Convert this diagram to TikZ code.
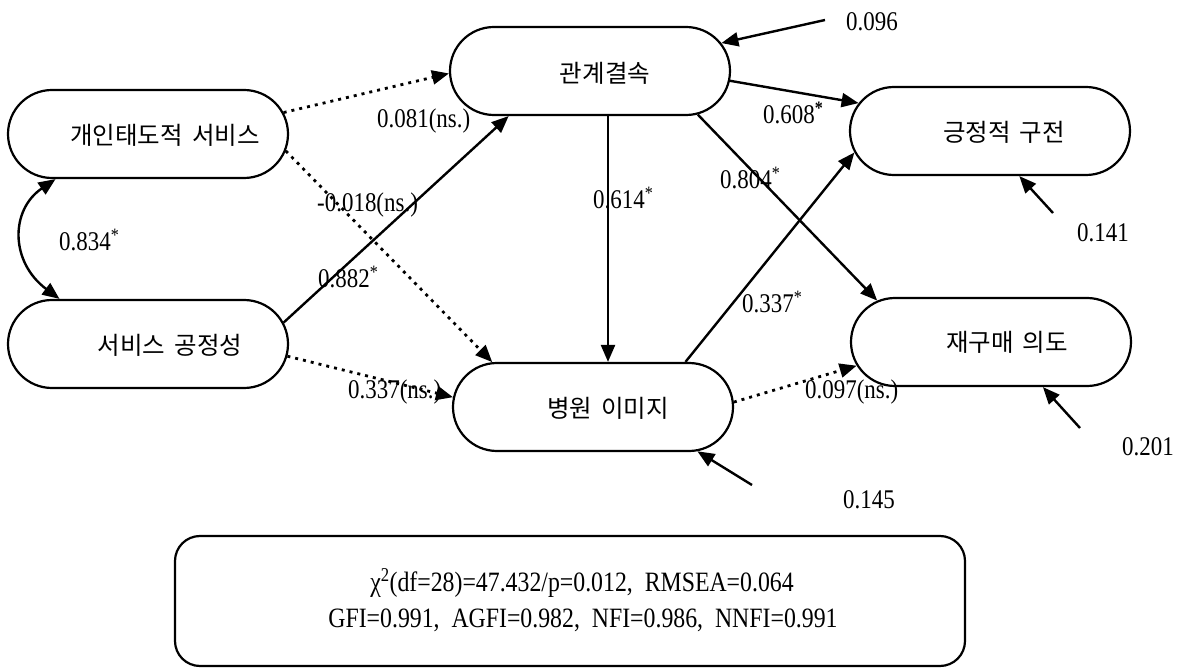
\documentclass[tikz,border=0pt]{standalone}
\usepackage{fontspec}
\setmainfont{Liberation Serif}[FakeStretch=0.85]
\newfontfamily\kr{Noto Sans CJK KR}
\usetikzlibrary{arrows.meta,shapes.misc}
\newcommand{\ksp}{\hspace{9pt}}
\begin{document}
\begin{tikzpicture}[x=1pt,y=-1pt,
  box/.style={rounded rectangle, draw, line width=2.2pt, minimum width=280pt, minimum height=88pt, inner sep=0pt},
  kt/.style={font=\kr\fontsize{24.5}{28}\selectfont, inner sep=0pt},
  lab/.style={font=\fontsize{27}{30}\selectfont, inner sep=0pt, anchor=west},
  tip/.tip={Triangle[length=17pt,width=14pt]},
  arr/.style={line width=2.4pt, -tip},
  dot/.style={arr, dash pattern=on 3pt off 5pt, line width=2.8pt}]
\useasboundingbox (0,0) rectangle (1179,668);
% boxes
\node[box] (b1) at (148,134) {};
\node[box] (b2) at (148,344) {};
\node[box] (b3) at (590,71) {};
\node[box] (b4) at (593,407) {};
\node[box] (b5) at (990,131) {};
\node[box] (b6) at (991,342) {};
\node[kt] (t1) at (165,135) {개인태도적\ksp 서비스};
\node[kt] (t2) at (170,345) {서비스\ksp 공정성};
\node[kt] (t3) at (605,73) {관계결속};
\node[kt] (t4) at (608,408) {병원\ksp 이미지};
\node[kt] (t5) at (1004,132) {긍정적\ksp 구전};
\node[kt] (t6) at (1007,342) {재구매\ksp 의도};
% error sources
\coordinate (e1) at (825,20);
\coordinate (e2) at (1053,213);
\coordinate (e3) at (1080,428);
\coordinate (e4) at (752,485);
% connectors
\draw[dot] (b1.9) -- (b3.181);
\draw[dot] (b1.-7) -- (b4.156);
\draw[arr] (b2.9) -- (b3.209);
\draw[dot] (b2.-5) -- (b4.176);
\draw[arr] ([xshift=18pt]b3.south) -- ([xshift=18pt]b3.south |- b4.north);
\draw[arr] (b3.-4) -- (b5.168);
\draw[arr] (b3.-22) -- (b6.160);
\draw[arr] (b4.26) -- (b5.189);
\draw[dot] (b4.2) -- (b6.190);
\draw[arr] (e1) -- (b3.12);
\draw[arr] (e2) -- (b5.-57);
\draw[arr] (e3) -- (b6.-41);
\draw[arr] (e4) -- (b4.-23);
\draw[line width=2.4pt, tip-tip] (b1.206) .. controls (10,210) and (10,262) .. (b2.153);
% labels
\node[lab] (l1) at (377,121) {0.081(ns.)};
\node[lab] (l2) at (317,205) {-0.018(ns.)};
\node[lab] (l3) at (59,240) {0.834\textsuperscript{*}};
\node[lab] (l4) at (318,277) {0.882\textsuperscript{*}};
\node[lab] (l5) at (593,198) {0.614\textsuperscript{*}};
\node[lab] (l6) at (763,113) {0.608\textsuperscript{\textbf{*}}};
\node[lab] (l7) at (720,178) {0.804\textsuperscript{*}};
\node[lab] (l8) at (742,302) {0.337\textsuperscript{*}};
\node[lab] (l9) at (348,392) {0.337(ns.)};
\node[lab] (l10) at (805,392) {0.097(ns.)};
\node[lab] (l11) at (846,22) {0.096};
\node[lab] (l12) at (1077,233) {0.141};
\node[lab] (l13) at (1122,447) {0.201};
\node[lab] (l14) at (843,500) {0.145};
% fit box
\node[draw, line width=2.2pt, rounded corners=25pt, minimum width=790pt, minimum height=130pt] (fit) at (570,601) {};
\node[font=\fontsize{28}{36}\selectfont, inner sep=0pt] (f1) at (582,583) {χ\textsuperscript{2}(df=28)=47.432/p=0.012,\ \ RMSEA=0.064};
\node[font=\fontsize{28}{36}\selectfont, inner sep=0pt] (f2) at (583,620) {GFI=0.991,\ \ AGFI=0.982,\ \ NFI=0.986,\ \ NNFI=0.991};
\end{tikzpicture}
\end{document}
